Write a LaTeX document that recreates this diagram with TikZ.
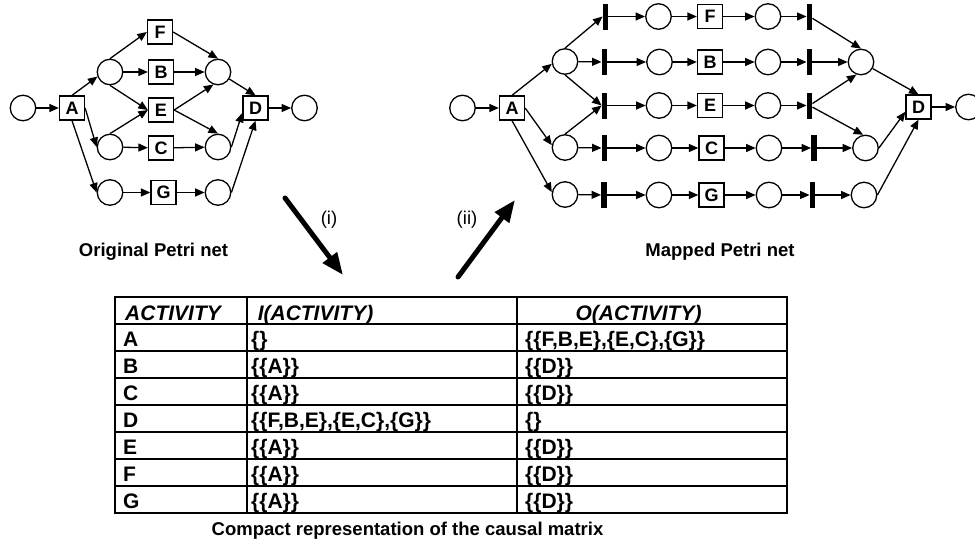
\documentclass[tikz,border=0pt]{standalone}
\usepackage{fontspec}
\setmainfont{Liberation Sans}
\usetikzlibrary{arrows.meta,positioning,calc}

\begin{document}
\begin{tikzpicture}[x=1pt, y=-1pt,
  place/.style={draw, circle, line width=1.3pt, minimum size=25.5pt, inner sep=0pt},
  tbox/.style={
    draw, rectangle, line width=1.3pt, minimum width=25pt, minimum height=24pt,
    inner sep=0pt, font=\fontsize{18}{20}\selectfont\bfseries
  },
  sbar/.style={fill=black, rectangle, minimum width=5.5pt, minimum height=26pt, inner sep=0pt},
  flow/.style={-{Triangle[length=9.5pt,width=8pt]}, line width=1.3pt},
  bigarr/.style={-{Triangle[length=22pt,width=17pt]}, line width=5pt, line cap=round},
  lbl/.style={font=\fontsize{18.5}{22}\selectfont\bfseries, anchor=base, inner sep=0pt},
  cell/.style={font=\fontsize{21}{25}\selectfont\bfseries, anchor=base west, inner sep=0pt},
  head/.style={font=\fontsize{21}{25}\selectfont\bfseries\itshape, anchor=base, inner sep=0pt},
  tline/.style={line width=1.4pt}
]
  \useasboundingbox (0,0) rectangle (975,546);

  % original net
  \node[place] (ls) at (23,108) {};
  \node[tbox] (lA) at (72,108) {A};
  \node[place] (lp1) at (110,72) {};
  \node[place] (lp2) at (110,147) {};
  \node[place] (lp3) at (110,192.5) {};
  \node[tbox] (lF) at (160,32) {F};
  \node[tbox] (lB) at (161,72) {B};
  \node[tbox] (lE) at (161,110) {E};
  \node[tbox] (lC) at (161,148) {C};
  \node[tbox] (lG) at (163.5,192.5) {G};
  \node[place] (lq1) at (218,72) {};
  \node[place] (lq2) at (218,147) {};
  \node[place] (lq3) at (218,192.5) {};
  \node[tbox] (lD) at (255.5,108) {D};
  \node[place] (le) at (304.5,108) {};
  \draw[flow] (ls) -- (lA);
  \draw[flow] (lA.north) -- (lp1.200);
  \draw[flow] (lA.east) -- (lp2.west);
  \draw[flow] (lA.south) -- (lp3.west);
  \draw[flow] (lp1.north) -- (lF.west);
  \draw[flow] (lp1) -- (lB);
  \draw[flow] (lp1.south) -- (lE.west);
  \draw[flow] (lp2.north) -- (lE.west);
  \draw[flow] (lp2) -- (lC);
  \draw[flow] (lp3) -- (lG);
  \draw[flow] (lF.east) -- (lq1.north);
  \draw[flow] (lB) -- (lq1);
  \draw[flow] (lE.east) -- (lq1.250);
  \draw[flow] (lE.east) -- (lq2.north);
  \draw[flow] (lC) -- (lq2);
  \draw[flow] (lG) -- (lq3);
  \draw[flow] (lq1) -- (lD.north);
  \draw[flow] (lq2.east) -- (lD.200);
  \draw[flow] (lq3.east) -- (lD.south);
  \draw[flow] (lD) -- (le);
  \node[lbl] (orig) at (153.5,256.5) {Original Petri net};

  % mapped net
  \node[place] (rs) at (462.5,108) {};
  \node[tbox] (rA) at (512,108) {A};
  \node[place] (rp1) at (565,61.5) {};
  \node[place] (rp2) at (565,147.5) {};
  \node[place] (rp3) at (565,194.5) {};
  \node[sbar] (F1) at (605.5,16.5) {};  \node[place] (F2) at (658.5,16.5) {};
  \node[tbox] (F3) at (710,16.5) {F};    \node[place] (F4) at (768,16.5) {};
  \node[sbar] (F5) at (809.5,16.5) {};
  \node[sbar] (B1) at (604.5,62) {};    \node[place] (B2) at (659.5,62) {};
  \node[tbox] (B3) at (710,62) {B};      \node[place] (B4) at (768,62) {};
  \node[sbar] (B5) at (809.5,62) {};
  \node[sbar] (E1) at (604.5,105.5) {}; \node[place] (E2) at (659,105.5) {};
  \node[tbox] (E3) at (710,105.5) {E};   \node[place] (E4) at (768,105.5) {};
  \node[sbar] (E5) at (809.5,105.5) {};
  \node[sbar] (C1) at (604.5,148) {};   \node[place] (C2) at (659,148) {};
  \node[tbox] (C3) at (711.5,148) {C};   \node[place] (C4) at (769,148) {};
  \node[sbar] (C5) at (814,148) {};
  \node[sbar] (G1) at (604,195) {};     \node[place] (G2) at (659,195) {};
  \node[tbox] (G3) at (711.5,195) {G};   \node[place] (G4) at (769,195) {};
  \node[sbar] (G5) at (812.5,195) {};
  \node[place] (rq1) at (861,62) {};
  \node[place] (rq2) at (865.5,148) {};
  \node[place] (rq3) at (864,195) {};
  \node[tbox] (rD) at (918.5,107) {D};
  \node[place] (re) at (968.5,107) {};
  \draw[flow] (rs) -- (rA);
  \draw[flow] (rA.north) -- (rp1.190);
  \draw[flow] (rA.east) -- (rp2.170);
  \draw[flow] (rA.south) -- (rp3.170);
  \draw[flow] (rp1.north) -- (F1.west);
  \draw[flow] (rp1) -- (B1);
  \draw[flow] (rp1.south) -- (E1.west);
  \draw[flow] (rp2.north) -- (E1.west);
  \draw[flow] (rp2) -- (C1);
  \draw[flow] (rp3) -- (G1);
  \foreach \r in {F,B,E,C,G} {
    \draw[flow] (\r1) -- (\r2);
    \draw[flow] (\r2) -- (\r3);
    \draw[flow] (\r3) -- (\r4);
    \draw[flow] (\r4) -- (\r5);
  }
  \draw[flow] (F5) -- (rq1.north);
  \draw[flow] (B5) -- (rq1);
  \draw[flow] (E5) -- (rq1.250);
  \draw[flow] (E5) -- (rq2.100);
  \draw[flow] (C5) -- (rq2);
  \draw[flow] (G5) -- (rq3);
  \draw[flow] (rq1) -- (rD.north);
  \draw[flow] (rq2.east) -- (rD.200);
  \draw[flow] (rq3.east) -- (rD.south);
  \draw[flow] (rD) -- (re);
  \node[lbl] (mapped) at (720,256.5) {Mapped Petri net};

  % transformation arrows
  \coordinate (i0) at (285,198);
  \coordinate (i1) at (343,275);
  \coordinate (ii0) at (458,277);
  \coordinate (ii1) at (515,200);
  \draw[bigarr] (i0) -- (i1);
  \draw[bigarr] (ii0) -- (ii1);
  \node[font=\fontsize{18.5}{22}\selectfont] (ilbl) at (329,220) {(i)};
  \node[font=\fontsize{18.5}{22}\selectfont] (iilbl) at (467,220) {(ii)};

  % causal matrix
  \draw[tline] (115,297) rectangle (787,513);
  \foreach \y in {324,351,...,486} \draw[tline] (115,\y) -- (787,\y);
  \draw[tline] (247,297) -- (247,513);
  \draw[tline] (517,297) -- (517,513);
  \node[head, anchor=base west] (hact) at (125,320.5) {ACTIVITY};
  \node[head] (hin) at (315.5,320.5) {I(ACTIVITY)};
  \node[head] (hout) at (638.5,320.5) {O(ACTIVITY)};
  \foreach \a/\i/\o [count=\k] in {
      A/{\{\}}/{\{\{F,B,E\},\{E,C\},\{G\}\}},
      B/{\{\{A\}\}}/{\{\{D\}\}},
      C/{\{\{A\}\}}/{\{\{D\}\}},
      D/{\{\{F,B,E\},\{E,C\},\{G\}\}}/{\{\}},
      E/{\{\{A\}\}}/{\{\{D\}\}},
      F/{\{\{A\}\}}/{\{\{D\}\}},
      G/{\{\{A\}\}}/{\{\{D\}\}}} {
    \node[cell] (act\a) at (123,{346+27*(\k-1)}) {\a};
    \node[cell] (in\a) at (251,{346+27*(\k-1)}) {\i};
    \node[cell] (out\a) at (525,{346+27*(\k-1)}) {\o};
  }
  \node[lbl] (capt) at (407.5,535) {Compact representation of the causal matrix};
\end{tikzpicture}
\end{document}
